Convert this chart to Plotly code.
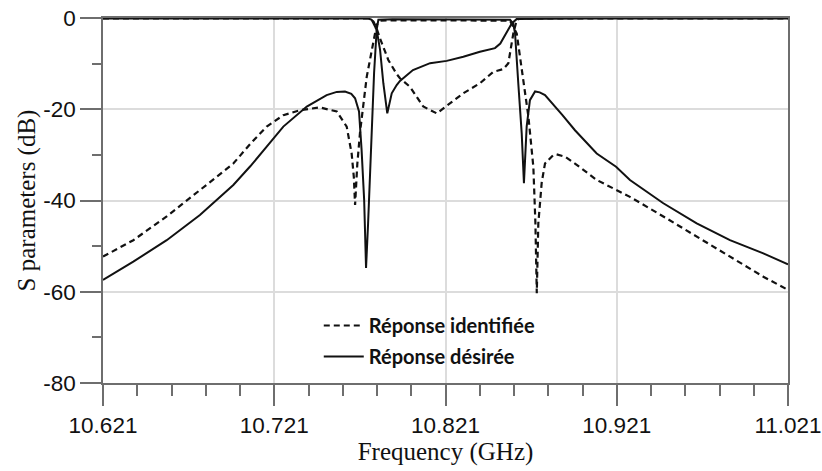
import plotly.graph_objects as go

# ---- data (frequency in GHz, magnitude in dB) ----
freq_s21_des = [10.621, 10.6387, 10.6582, 10.6776, 10.6971, 10.7070, 10.7166, 10.7263, 10.7400,
                10.7516, 10.7575, 10.7623, 10.7660, 10.7682, 10.7705, 10.7720, 10.7735, 10.7746,
                10.7758, 10.7775, 10.7793, 10.7808, 10.7818, 10.7900, 10.8100, 10.8300, 10.8500,
                10.8587, 10.8605, 10.8616, 10.8635, 10.8655, 10.8668, 10.8684, 10.8703, 10.8733,
                10.8760, 10.8791, 10.8893, 10.8966, 10.9093, 10.9206, 10.9287, 10.9482, 10.9677,
                10.9871, 11.0066, 11.021]
s21_des = [-57.4, -53.4, -48.7, -43.2, -36.6, -32.5, -28.2, -23.8, -19.4,
           -16.9, -16.2, -16.1, -16.6, -17.6, -20.5, -28.9, -39.9, -54.8,
           -45.0, -28.0, -12.0, -2.6, -0.4, -0.3, -0.3, -0.3, -0.3,
           -0.4, -1.2, -3.3, -14.3, -25.3, -36.2, -23.8, -18.0, -16.1,
           -16.3, -16.9, -21.3, -24.6, -29.7, -32.6, -35.5, -40.6, -45.0,
           -48.7, -51.6, -54.0]

freq_s21_id = [10.621, 10.6387, 10.6582, 10.6776, 10.6971, 10.7070, 10.7166, 10.7263, 10.7360,
               10.7477, 10.7575, 10.7633, 10.7662, 10.7675, 10.7682, 10.7695, 10.7711, 10.7750,
               10.7788, 10.7808, 10.7828, 10.7900, 10.8100, 10.8300, 10.8500, 10.8587, 10.8626,
               10.8655, 10.8694, 10.8723, 10.8735, 10.8743, 10.8752, 10.8772, 10.8791, 10.8840,
               10.8859, 10.8908, 10.8937, 10.8966, 10.9093, 10.9206, 10.9287, 10.9482, 10.9677,
               10.9871, 11.0066, 11.021]
s21_id = [-52.3, -48.7, -43.5, -37.7, -31.9, -27.6, -23.8, -21.3, -20.2,
          -19.6, -20.5, -23.8, -29.7, -35.0, -41.0, -32.0, -25.0, -12.9,
          -5.5, -1.5, -0.6, -0.5, -0.5, -0.5, -0.5, -0.6, -3.4,
          -10.7, -21.6, -32.6, -45.0, -60.3, -45.0, -36.0, -31.9, -30.0,
          -29.9, -30.4, -31.1, -31.9, -35.5, -37.7, -39.2, -43.5, -47.9,
          -52.3, -56.7, -59.6]

freq_s11_des = [10.621, 10.7000, 10.7760, 10.7779, 10.7808, 10.7828, 10.7847, 10.7870, 10.7896,
                10.7925, 10.7944, 10.8020, 10.8120, 10.8217, 10.8314, 10.8411, 10.8499, 10.8530,
                10.8557, 10.8597, 10.8626, 10.9000, 11.021]
s11_des = [-0.1, -0.1, -0.1, -0.4, -2.6, -7.0, -14.3, -20.9, -16.5,
           -14.7, -13.8, -11.4, -9.9, -9.4, -8.5, -7.4, -6.6, -5.6,
           -3.8, -1.2, -0.2, -0.1, -0.1]

freq_s11_id = [10.621, 10.7000, 10.7765, 10.7790, 10.7808, 10.7828, 10.7876, 10.7925, 10.7944,
               10.8003, 10.8080, 10.8159, 10.8236, 10.8314, 10.8411, 10.8489, 10.8548, 10.8577,
               10.8606, 10.8626, 10.8650, 10.9000, 11.021]
s11_id = [-0.1, -0.1, -0.1, -0.8, -2.3, -4.5, -9.2, -12.3, -13.2,
          -15.1, -19.4, -20.9, -18.7, -16.5, -14.3, -11.8, -11.2, -9.9,
          -3.4, -0.4, -0.1, -0.1, -0.1]

x_ticks = [10.621, 10.721, 10.821, 10.921, 11.021]
y_ticks = [0, -20, -40, -60, -80]

name_id = "Réponse identifiée"
name_des = "Réponse désirée"

# ---- figure ----
BLACK = "#111111"
DASH = "6px,4px"

fig = go.Figure()
fig.add_trace(go.Scatter(x=freq_s21_id, y=s21_id, mode="lines", name=name_id,
                         legendgroup="id", line=dict(color=BLACK, width=2.2, dash=DASH)))
fig.add_trace(go.Scatter(x=freq_s11_id, y=s11_id, mode="lines", name=name_id,
                         legendgroup="id", showlegend=False,
                         line=dict(color=BLACK, width=2.2, dash=DASH)))
fig.add_trace(go.Scatter(x=freq_s21_des, y=s21_des, mode="lines", name=name_des,
                         legendgroup="des", line=dict(color=BLACK, width=2)))
fig.add_trace(go.Scatter(x=freq_s11_des, y=s11_des, mode="lines", name=name_des,
                         legendgroup="des", showlegend=False,
                         line=dict(color=BLACK, width=2)))

axis_common = dict(
    showline=True, linecolor="#6e6e6e", linewidth=1.5, mirror=True,
    showgrid=True, gridcolor="#dcdcdc", gridwidth=1.5,
    ticks="outside", ticklen=21, tickwidth=1.5, tickcolor="#6e6e6e",
    zeroline=False, automargin=False, ticklabeloverflow="allow",
    tickfont=dict(family="Liberation Sans, Arial, sans-serif", size=22.5, color="#111111"),
)

fig.update_layout(
    width=822, height=471,
    margin=dict(l=103, r=34, t=18, b=88),
    paper_bgcolor="white", plot_bgcolor="white",
    showlegend=True,
    legend=dict(
        x=0.315, y=0.211, xanchor="left", yanchor="top",
        bgcolor="rgba(0,0,0,0)",
        font=dict(family="Lato, Open Sans, sans-serif", size=20, color="#111111", weight="bold"),
        tracegroupgap=2, itemwidth=40,
    ),
    xaxis=dict(
        range=[10.621, 11.021], tickvals=x_ticks, ticktext=[f"{v:.3f}" for v in x_ticks],
        minor=dict(dtick=0.02, tick0=10.621, ticks="outside", ticklen=11, tickwidth=1.5,
                   tickcolor="#6e6e6e", showgrid=False),
        title=dict(text="Frequency (GHz)", standoff=0,
                   font=dict(family="Liberation Serif, Times New Roman, serif", size=25, color="#111111")),
        **axis_common,
    ),
    yaxis=dict(
        range=[-80, 0], tickvals=y_ticks, ticktext=[str(v) for v in y_ticks],
        minor=dict(dtick=10, tick0=0, ticks="outside", ticklen=9, tickwidth=1.5,
                   tickcolor="#6e6e6e", showgrid=False),
        title=dict(text="S parameters (dB)", standoff=0,
                   font=dict(family="Liberation Serif, Times New Roman, serif", size=25, color="#111111")),
        **axis_common,
    ),
)

# remove the default page margin so the 822x471 figure fills the window exactly
fig.write_html("out.html", config={"displayModeBar": False},
               post_script="document.body.style.margin='0';document.body.style.overflow='hidden';")
